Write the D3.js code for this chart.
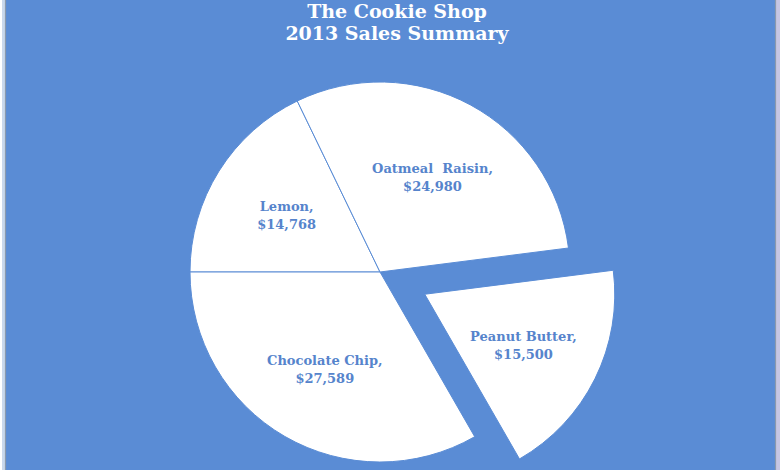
<!DOCTYPE html>
<html><head><meta charset="utf-8">
<script src="https://cdn.jsdelivr.net/npm/d3@7"></script>
<style>html,body{margin:0;padding:0;background:#fff;overflow:hidden}</style>
</head><body>
<svg id="c" width="780" height="470"></svg>
<script>
const categories = ["Lemon", "Oatmeal  Raisin", "Peanut Butter", "Chocolate Chip"];
const sales = [14768, 24980, 15500, 27589];
const exploded = ["Peanut Butter"];
const titleLines = ["The Cookie Shop", "2013 Sales Summary"];

const W = 780, H = 470;
const blue = "#5A8CD5";
const labelBlue = "#5684CC";
const svg = d3.select("#c");

svg.append("rect").attr("x",0).attr("y",0).attr("width",W).attr("height",H).attr("fill","#fff");
svg.append("rect").attr("x",2).attr("y",0).attr("width",3).attr("height",H).attr("fill","#c9d8ec");
svg.append("rect").attr("x",776).attr("y",0).attr("width",4).attr("height",H).attr("fill","#c6c6e4");
svg.append("rect").attr("x",5.5).attr("y",-10).attr("width",770).attr("height",H+20)
  .attr("fill",blue).attr("stroke","#8a99ad").attr("stroke-width",1.2);

const t = svg.append("text").attr("text-anchor","middle")
  .attr("font-family","'DejaVu Serif', serif").attr("font-weight","bold")
  .attr("font-size",19).attr("fill","#fff");
titleLines.forEach((l,i)=>t.append("tspan").attr("x",397).attr("y",18+i*22).text(l));

const cx = 380, cy = 272, R = 190, explodeOff = 50;
const pie = d3.pie().sort(null).value(d=>d.v).startAngle(-Math.PI/2).endAngle(3*Math.PI/2);
const data = pie(categories.map((c,i)=>({c, v:sales[i]})));
const arc = d3.arc().innerRadius(0).outerRadius(R);
const labelArc = d3.arc().innerRadius(R*0.58).outerRadius(R*0.58);
const fmt = d3.format("$,");

const g = svg.append("g").attr("transform",`translate(${cx},${cy})`);
const slices = g.selectAll("g.s").data(data).join("g").attr("class","s")
  .attr("transform", d=>{
    if (!exploded.includes(d.data.c)) return null;
    const m = (d.startAngle+d.endAngle)/2;
    return `translate(${Math.sin(m)*explodeOff},${-Math.cos(m)*explodeOff})`;
  });
slices.append("path").attr("d",arc).attr("fill","#fff").attr("stroke",blue).attr("stroke-width",1);

slices.append("text").attr("text-anchor","middle")
  .attr("font-family","'DejaVu Serif', serif").attr("font-weight","bold")
  .attr("font-size",13).attr("fill",labelBlue)
  .attr("transform", d=>{ const [x,y]=labelArc.centroid(d); return `translate(${x},${y})`; })
  .each(function(d){
    const s = d3.select(this);
    s.append("tspan").attr("x",0).attr("y",-2).style("white-space","pre").text(d.data.c+",");
    s.append("tspan").attr("x",0).attr("y",16).text(fmt(d.data.v));
  });
</script>
</body></html>
